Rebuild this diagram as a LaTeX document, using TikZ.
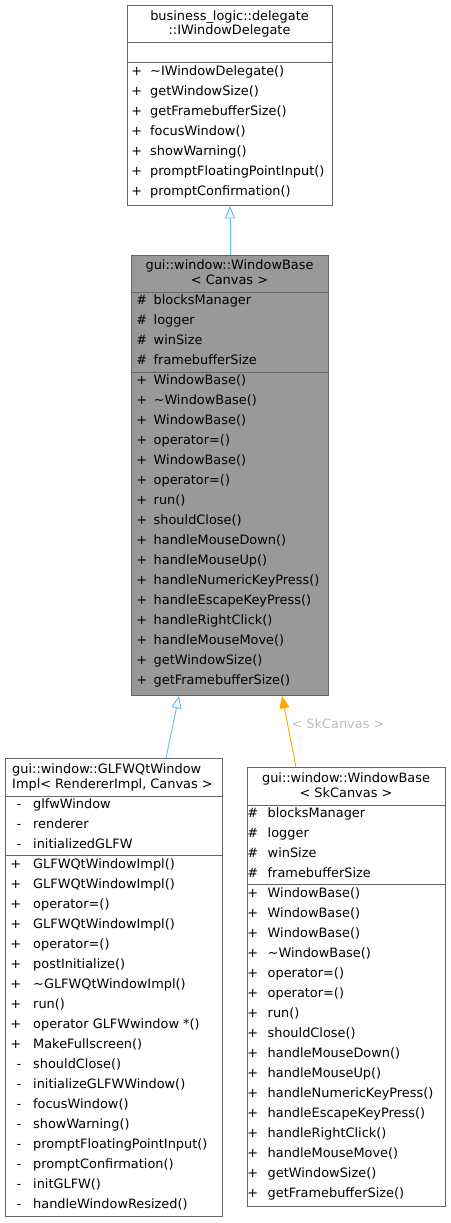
\documentclass[tikz,border=0pt]{standalone}
\usepackage{fontspec}
\setmainfont{DejaVu Sans}
\usetikzlibrary{arrows.meta}
\definecolor{bordercol}{HTML}{666666}
\definecolor{basefill}{HTML}{999999}
\definecolor{inhblue}{HTML}{63B8FF}
\definecolor{tmplorange}{HTML}{FFA500}
\definecolor{lblgray}{HTML}{BEBEBE}
\newcommand\memberlist[5]{%
  \foreach \s/\n [count=\i] in {#5} {%
    \node[symtxt] (#1s\i) at (#2,{#4+20*(\i-1)}) {\s};
    \node[memtxt] (#1n\i) at (#3,{#4+20*(\i-1)}) {\n};
  }%
}
\begin{document}
\begin{tikzpicture}[x=1pt,y=-1pt,
  font=\fontsize{12.9}{15}\selectfont,
  cls/.style={draw=bordercol, line width=0.9pt, inner sep=0pt, anchor=north west},
  sepline/.style={draw=bordercol, line width=0.9pt},
  memtxt/.style={inner sep=0pt, anchor=west, text height=9.5pt, text depth=3pt},
  symtxt/.style={inner sep=0pt, anchor=east, text height=9.5pt, text depth=3pt},
  ttltxt/.style={inner sep=0pt, text height=9.5pt, text depth=3pt},
  inh/.style={draw=inhblue, line width=0.9pt, -{Triangle[open, length=12.5pt, width=10pt]}},
  tmpl/.style={draw=tmplorange, line width=0.9pt, -{Triangle[length=12.5pt, width=10pt]}},
  lbl/.style={inner sep=0pt, text=lblgray}
]
\fill[white] (0,0) rectangle (450,1223);
\useasboundingbox (0,0) rectangle (450,1223);

% ---------- Box A ----------
\node[cls, minimum width=205pt, minimum height=200pt] (A) at (127,5) {};
\draw[sepline] ([yshift=-37pt]A.north west) -- ([yshift=-37pt]A.north east);
\draw[sepline] ([yshift=-57pt]A.north west) -- ([yshift=-57pt]A.north east);
\node[ttltxt] (At1) at (229.5,17) {business\_logic::delegate};
\node[ttltxt] (At2) at (229.5,31.5) {::IWindowDelegate};
\memberlist{Am}{142.4}{150}{72}{+/{\textasciitilde IWindowDelegate()},+/getWindowSize(),+/getFramebufferSize(),+/focusWindow(),+/showWarning(),+/promptFloatingPointInput(),+/promptConfirmation()}

% ---------- Box B ----------
\node[cls, fill=basefill, minimum width=197pt, minimum height=440pt] (B) at (131,255) {};
\draw[sepline] ([yshift=-37pt]B.north west) -- ([yshift=-37pt]B.north east);
\draw[sepline] ([yshift=-117pt]B.north west) -- ([yshift=-117pt]B.north east);
\node[ttltxt] (Bt1) at (229.5,266) {gui::window::WindowBase};
\node[ttltxt] (Bt2) at (229.5,281) {< Canvas >};
\memberlist{Ba}{147.3}{153.5}{301}{\#/blocksManager,\#/logger,\#/winSize,\#/framebufferSize}
\memberlist{Bm}{147.3}{153.5}{381}{+/WindowBase(),+/{\textasciitilde WindowBase()},+/WindowBase(),+/operator=(),+/WindowBase(),+/operator=(),+/run(),+/shouldClose(),+/handleMouseDown(),+/handleMouseUp(),+/handleNumericKeyPress(),+/handleEscapeKeyPress(),+/handleRightClick(),+/handleMouseMove(),+/getWindowSize(),+/getFramebufferSize()}

% ---------- Box C ----------
\node[cls, minimum width=217pt, minimum height=458pt] (C) at (5,758) {};
\draw[sepline] ([yshift=-38pt]C.north west) -- ([yshift=-38pt]C.north east);
\draw[sepline] ([yshift=-97pt]C.north west) -- ([yshift=-97pt]C.north east);
\node[ttltxt, anchor=west] (Ct1) at (12,770.5) {gui::window::GLFWQtWindow};
\node[ttltxt, anchor=west] (Ct2) at (12,785) {Impl< RendererImpl, Canvas >};
\memberlist{Ca}{21.5}{33}{805}{-/glfwWindow,-/renderer,-/initializedGLFW}
\memberlist{Cm}{21.5}{33}{865}{+/GLFWQtWindowImpl(),+/GLFWQtWindowImpl(),+/operator=(),+/GLFWQtWindowImpl(),+/operator=(),+/postInitialize(),+/{\textasciitilde GLFWQtWindowImpl()},+/run(),+/operator GLFWwindow *(),+/MakeFullscreen(),-/shouldClose(),-/initializeGLFWWindow(),-/focusWindow(),-/showWarning(),-/promptFloatingPointInput(),-/promptConfirmation(),-/initGLFW(),-/handleWindowResized()}

% ---------- Box D ----------
\node[cls, minimum width=198pt, minimum height=439pt] (D) at (247,767) {};
\draw[sepline] ([yshift=-38pt]D.north west) -- ([yshift=-38pt]D.north east);
\draw[sepline] ([yshift=-117pt]D.north west) -- ([yshift=-117pt]D.north east);
\node[ttltxt] (Dt1) at (346,779.5) {gui::window::WindowBase};
\node[ttltxt] (Dt2) at (346,794) {< SkCanvas >};
\memberlist{Da}{258.3}{267.5}{814}{\#/blocksManager,\#/logger,\#/winSize,\#/framebufferSize}
\memberlist{Dm}{258.3}{267.5}{894}{+/WindowBase(),+/WindowBase(),+/WindowBase(),+/{\textasciitilde WindowBase()},+/operator=(),+/operator=(),+/run(),+/shouldClose(),+/handleMouseDown(),+/handleMouseUp(),+/handleNumericKeyPress(),+/handleEscapeKeyPress(),+/handleRightClick(),+/handleMouseMove(),+/getWindowSize(),+/getFramebufferSize()}

% ---------- Connectors ----------
\draw[inh] (B.north) -- (A.south);
\draw[inh] ([xshift=161pt]C.north west) -- ([xshift=48pt]B.south west);
\draw[tmpl] ([xshift=49pt]D.north west) -- ([xshift=151pt]B.south west);
\node[lbl] (skl) at (338,724) {< SkCanvas >};
\end{tikzpicture}
\end{document}
